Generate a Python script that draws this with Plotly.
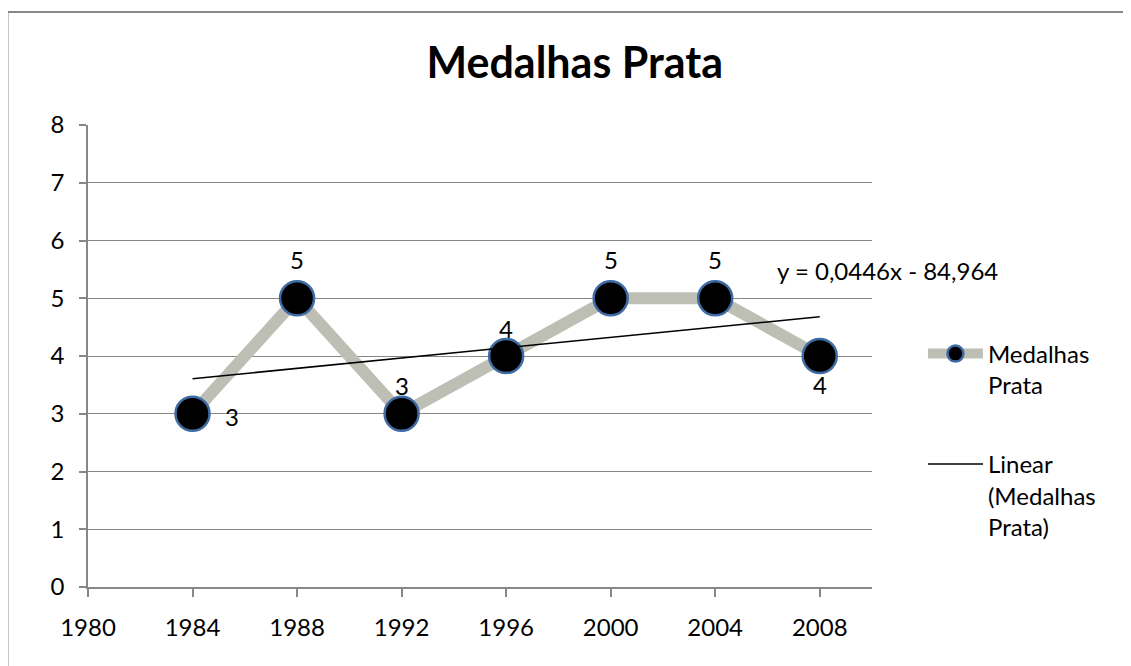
import numpy as np
import plotly.graph_objects as go

# dados
anos = [1984, 1988, 1992, 1996, 2000, 2004, 2008]
medalhas_prata = [3, 5, 3, 4, 5, 5, 4]
x_ticks = [1980, 1984, 1988, 1992, 1996, 2000, 2004, 2008]
y_ticks = [0, 1, 2, 3, 4, 5, 6, 7, 8]

# tendencia linear (como no Excel)
slope, intercept = np.polyfit(anos, medalhas_prata, 1)
trend_x = [anos[0], anos[-1]]
trend_y = [slope * x + intercept for x in trend_x]
equacao = 'y = {:.4f}x - {:.3f}'.format(slope, abs(intercept)).replace('.', ',')

fonte = 'Lato'
cinza = '#878787'

# deslocamento dos rotulos (px)
rot_dx = [39, 0, 0, 0, 0, 0, 0]
rot_dy = [-3, 39, 28, 28, 39, 39, -28]

fig = go.Figure()

fig.add_trace(go.Scatter(
    x=anos, y=medalhas_prata,
    mode='lines+markers',
    name='Medalhas<br>Prata',
    legendgroup='a',
    line=dict(color='#BEBFB4', width=12),
    marker=dict(size=34, color='black', line=dict(color='#3F6BA5', width=2.5)),
))

fig.add_trace(go.Scatter(
    x=trend_x, y=trend_y,
    mode='lines',
    name='Linear<br>(Medalhas<br>Prata)',
    legendgroup='b',
    line=dict(color='black', width=1.5),
))

for ano, v, dx, dy in zip(anos, medalhas_prata, rot_dx, rot_dy):
    fig.add_annotation(x=ano, y=v, text=str(v), showarrow=False,
                       xshift=dx, yshift=dy,
                       font=dict(size=24, color='black', family=fonte))

fig.add_annotation(
    x=0.876, y=0.686, xref='paper', yref='paper',
    xanchor='left', yanchor='middle', showarrow=False,
    text=equacao, font=dict(size=24, color='black', family=fonte),
)

# moldura do grafico
fig.add_shape(type='rect', xref='paper', yref='paper',
              x0=-0.1027, x1=1.5, y0=-0.5, y1=1.2446,
              line=dict(color=cinza, width=2), layer='below')

# a pagina tem 8px de margem, por isso a figura e um pouco menor
fig.update_layout(
    width=1123, height=658,
    margin=dict(l=80, r=259, t=117, b=79),
    paper_bgcolor='white', plot_bgcolor='white',
    font=dict(family=fonte, size=24, color='black'),
    title=dict(text='<b>Medalhas Prata</b>', x=0.621, xref='paper', xanchor='center',
               y=0.916, yref='container', yanchor='middle',
               font=dict(size=43, family=fonte, color='black')),
    legend=dict(x=1.065, y=0.553, xanchor='left', yanchor='top', valign='top',
                traceorder='grouped', tracegroupgap=45, itemwidth=55,
                font=dict(size=24, family=fonte, color='black'),
                bgcolor='rgba(0,0,0,0)'),
    showlegend=True,
)

fig.update_xaxes(
    range=[1980, 2010], tickvals=x_ticks,
    showgrid=False, zeroline=False,
    showline=True, linecolor=cinza, linewidth=1.5,
    ticks='outside', ticklen=8, tickcolor=cinza, tickwidth=1.5,
    ticklabelstandoff=10,
)
fig.update_yaxes(
    range=[0, 8], tickvals=y_ticks,
    showgrid=True, gridcolor=cinza, gridwidth=1.2, zeroline=False,
    showline=True, linecolor=cinza, linewidth=1.5,
    ticks='outside', ticklen=7, tickcolor=cinza, tickwidth=1.5,
    ticklabelstandoff=10,
)

fig.write_html('out.html')
